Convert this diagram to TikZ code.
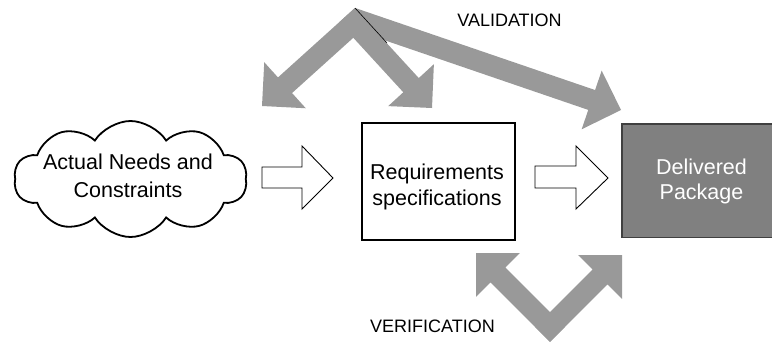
\documentclass[tikz,border=0pt]{standalone}
\usepackage{fontspec}
\setmainfont{Liberation Sans}
\usetikzlibrary{shapes.symbols,calc}
\definecolor{arrowgray}{RGB}{153,153,153}
\definecolor{pkggray}{RGB}{128,128,128}
\definecolor{pkgborder}{RGB}{64,64,64}
% #1 = extension behind start, #2 = start, #3 = tip
\newcommand{\grayarm}[3]{%
  \coordinate (armS) at ($(#2)!-#1!(#3)$);
  \coordinate (armB) at ($(#3)!31pt!(#2)$);
  \fill[arrowgray] ($(armS)!10.5pt!90:(#3)$) -- ($(armB)!10.5pt!90:(#3)$)
    -- ($(armB)!31pt!90:(#3)$) -- (#3) -- ($(armB)!31pt!-90:(#3)$)
    -- ($(armB)!10.5pt!-90:(#3)$) -- ($(armS)!10.5pt!-90:(#3)$) -- cycle;
}
\begin{document}
\begin{tikzpicture}[x=1pt,y=-1pt,
  bigtext/.style={font=\fontsize{21.5}{26}\selectfont, inner sep=0, anchor=base},
  smalltext/.style={font=\fontsize{18}{22}\selectfont, inner sep=0, anchor=base},
  whitearrow/.style={draw=black, fill=white, line width=0.9pt, line join=miter}]
\useasboundingbox (0,0) rectangle (772,343);

% cloud
\node[cloud, draw, line width=1.8pt, cloud puffs=10, cloud puff arc=115,
      cloud ignores aspect, minimum width=233pt, minimum height=116pt, inner sep=0]
      (needs) at (130.5,179) {};
\node[bigtext] (needs1) at (128,169) {Actual Needs and};
\node[bigtext] (needs2) at (128,197) {Constraints};

% requirements box
\node[draw, line width=1.1pt, minimum width=153pt, minimum height=117pt, inner sep=0]
      (req) at (438.5,181.5) {};
\node[bigtext] (req1) at (437,179) {Requirements};
\node[bigtext] (req2) at (437,205) {specifications};

% delivered package
\node[fill=pkggray, minimum width=150pt, minimum height=113pt, anchor=north west, inner sep=0]
      (pkg) at (622,124) {};
\draw[pkgborder, line width=1.5pt] (pkg.north east) -- (pkg.north west) -- (pkg.south west) -- (pkg.south east);
\node[bigtext, text=white] (pkg1) at (701.5,174) {Delivered};
\node[bigtext, text=white] (pkg2) at (701.5,199) {Package};

% white block arrows
\draw[whitearrow] (262,167) -- (302,167) -- (302,146) -- (333,178) -- (302,209) -- (302,188) -- (262,188) -- cycle;
\draw[whitearrow] (535,166) -- (576,166) -- (576,146) -- (608,178) -- (576,209) -- (576,188) -- (535,188) -- cycle;

% validation arrows
\coordinate (valC) at (354,23);
\coordinate (valL) at (262,106);
\coordinate (valR) at (432,108);
\coordinate (longS) at (352,18);
\coordinate (longT) at (621,110);
\grayarm{0pt}{longS}{longT}
\grayarm{10.5pt}{valC}{valL}
\grayarm{10.5pt}{valC}{valR}
\coordinate (valApex) at (355,8);
\coordinate (valLineEnd) at (387,43);
\draw[black, line width=0.6pt] (valApex) -- (valLineEnd);

% verification arrows
\coordinate (verC) at (550,327);
\coordinate (verL) at (476,253);
\coordinate (verR) at (622,255);
\grayarm{10.5pt}{verC}{verL}
\grayarm{10.5pt}{verC}{verR}

% labels
\node[smalltext] (val) at (509.5,26.7) {VALIDATION};
\node[smalltext] (ver) at (432.5,332) {VERIFICATION};
\end{tikzpicture}
\end{document}
